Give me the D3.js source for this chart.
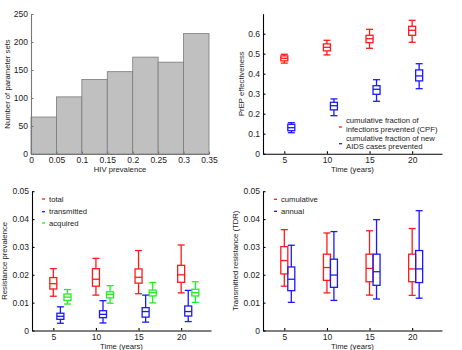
<!DOCTYPE html>
<html>
<head>
<meta charset="utf-8">
<script src="https://cdn.jsdelivr.net/npm/d3@7"></script>
<style type="text/css">
  body{
    margin: 0px;
    background: white;
  }
  svg text{
    font-family: 'Liberation Sans', Arial, sans-serif;
    fill: #222;
  }
  .axis text{
    font-size: 8.5px;
  }
  .label, .legend{
    font-size: 7.7px;
  }
</style>
</head>
<body>
<svg id="chart" width="462" height="350"></svg>
<script>

// histogram of HIV prevalence
var histEdges = [0, 0.05, 0.1, 0.15, 0.2, 0.25, 0.3, 0.35];
var histCounts = [66, 102, 133, 147, 173, 164, 215];

var years = [5, 10, 15, 20];

// boxes are [low whisker, q1, median, q3, high whisker]
var cpfBoxes = [
  [0.453, 0.464, 0.477, 0.489, 0.497],
  [0.494, 0.514, 0.532, 0.549, 0.567],
  [0.527, 0.555, 0.575, 0.592, 0.622],
  [0.557, 0.592, 0.617, 0.637, 0.667]
];
var aidsBoxes = [
  [0.105, 0.115, 0.130, 0.147, 0.155],
  [0.190, 0.219, 0.240, 0.257, 0.274],
  [0.262, 0.297, 0.322, 0.340, 0.370],
  [0.325, 0.364, 0.389, 0.419, 0.450]
];

var totalBoxes = [
  [0.0123, 0.0149, 0.0168, 0.0190, 0.0222],
  [0.0127, 0.0159, 0.0184, 0.0222, 0.0259],
  [0.0132, 0.0170, 0.0191, 0.0221, 0.0287],
  [0.0135, 0.0173, 0.0200, 0.0234, 0.0307]
];
var transmittedBoxes = [
  [0.0026, 0.0040, 0.0051, 0.0062, 0.0085],
  [0.0027, 0.0046, 0.0058, 0.0071, 0.0107],
  [0.0030, 0.0048, 0.0068, 0.0082, 0.0127],
  [0.0032, 0.0052, 0.0068, 0.0088, 0.0144]
];
var acquiredBoxes = [
  [0.0095, 0.0108, 0.0120, 0.0131, 0.0147],
  [0.0098, 0.0117, 0.0130, 0.0139, 0.0161],
  [0.0099, 0.0124, 0.0136, 0.0145, 0.0172],
  [0.0101, 0.0124, 0.0136, 0.0148, 0.0175]
];

var tdrCumBoxes = [
  [0.0159, 0.0203, 0.0251, 0.0301, 0.0362],
  [0.0135, 0.0180, 0.0226, 0.0274, 0.0350],
  [0.0127, 0.0175, 0.0223, 0.0274, 0.0358],
  [0.0126, 0.0175, 0.0221, 0.0274, 0.0366]
];
var tdrAnnBoxes = [
  [0.0101, 0.0143, 0.0184, 0.0228, 0.0306],
  [0.0108, 0.0155, 0.0199, 0.0256, 0.0355],
  [0.0113, 0.0162, 0.0211, 0.0274, 0.0398],
  [0.0116, 0.0172, 0.0221, 0.0287, 0.0430]
];

var histXTicks = [0, 0.05, 0.1, 0.15, 0.2, 0.25, 0.3, 0.35];
var histYTicks = [0, 50, 100, 150, 200, 250];
var prepYTicks = [0, 0.1, 0.2, 0.3, 0.4, 0.5, 0.6];
var resYTicks = [0, 0.01, 0.02, 0.03, 0.04, 0.05];

var red = '#ff1a1a', blue = '#1a1aff', green = '#22ee22';

var svg = d3.select('#chart');

function drawAxes(g, x, y, xTicks, yTicks, xFmt, yFmt, color) {
  var ax = g.append('g')
    .attr('class', 'axis')
    .attr('transform', 'translate(0,' + y.range()[0] + ')')
    .call(d3.axisBottom(x).tickValues(xTicks).tickFormat(xFmt)
      .tickSizeInner(-2.5).tickSizeOuter(0).tickPadding(3));
  var ay = g.append('g')
    .attr('class', 'axis')
    .attr('transform', 'translate(' + x.range()[0] + ',0)')
    .call(d3.axisLeft(y).tickValues(yTicks).tickFormat(yFmt)
      .tickSizeInner(-2.5).tickSizeOuter(0).tickPadding(3));
  [ax, ay].forEach(function(a) {
    a.selectAll('path, line').attr('stroke', color).attr('stroke-width', 1.1);
    a.selectAll('text').attr('fill', '#222');
  });
}

function labels(g, x, y, xText, yText, yLabelX) {
  var xr = x.range(), yr = y.range();
  g.append('text')
    .attr('class', 'label')
    .attr('x', (xr[0] + xr[1]) / 2)
    .attr('y', yr[0] + 18)
    .attr('text-anchor', 'middle')
    .text(xText);
  g.append('text')
    .attr('class', 'label')
    .attr('transform', 'translate(' + yLabelX + ',' + (yr[0] + yr[1]) / 2 + ') rotate(-90)')
    .attr('text-anchor', 'middle')
    .text(yText);
}

function drawBoxes(g, x, y, boxes, offset, color) {
  var hw = 3.5;
  var b = g.append('g')
    .attr('stroke', color)
    .attr('stroke-width', 1.3)
    .attr('fill', 'none');
  boxes.forEach(function(d, i) {
    var cx = x(years[i] + offset);
    // whiskers
    b.append('line').attr('x1', cx).attr('x2', cx).attr('y1', y(d[0])).attr('y2', y(d[1]));
    b.append('line').attr('x1', cx).attr('x2', cx).attr('y1', y(d[3])).attr('y2', y(d[4]));
    // caps
    b.append('line').attr('x1', cx - hw).attr('x2', cx + hw).attr('y1', y(d[0])).attr('y2', y(d[0]));
    b.append('line').attr('x1', cx - hw).attr('x2', cx + hw).attr('y1', y(d[4])).attr('y2', y(d[4]));
    // box and median
    b.append('rect')
      .attr('x', cx - hw).attr('width', 2 * hw)
      .attr('y', y(d[3])).attr('height', y(d[1]) - y(d[3]));
    b.append('line').attr('x1', cx - hw).attr('x2', cx + hw).attr('y1', y(d[2])).attr('y2', y(d[2]));
  });
}

function legend(g, items, x0, color) {
  items.forEach(function(it) {
    g.append('line')
      .attr('x1', x0).attr('x2', x0 + 3)
      .attr('y1', it.y).attr('y2', it.y)
      .attr('stroke', it.color).attr('stroke-width', 1.3);
    it.lines.forEach(function(t, j) {
      g.append('text')
        .attr('class', 'legend')
        .attr('x', x0 + 7)
        .attr('y', it.textY + j * 8.4)
        .attr('dy', '0.35em')
        .text(t);
    });
  });
}

var noFmt = function(d) { return d; };

// ---- panel 1: histogram
var g1 = svg.append('g');
var x1 = d3.scaleLinear().domain([0, 0.35]).range([31, 209]);
var y1 = d3.scaleLinear().domain([0, 250]).range([154, 14]);

g1.selectAll('.bar')
  .data(histCounts)
  .enter()
  .append('rect')
  .attr('class', 'bar')
  .attr('x', function(d, i) { return x1(histEdges[i]); })
  .attr('width', function(d, i) { return x1(histEdges[i + 1]) - x1(histEdges[i]); })
  .attr('y', function(d) { return y1(d); })
  .attr('height', function(d) { return y1(0) - y1(d); })
  .attr('fill', '#c0c0c0')
  .attr('stroke', '#7a7a7a')
  .attr('stroke-width', 0.8);

drawAxes(g1, x1, y1, histXTicks, histYTicks, noFmt, noFmt, '#777');
labels(g1, x1, y1, 'HIV prevalence', 'Number of parameter sets', 10);

// ---- panel 2: PrEP effectiveness
var g2 = svg.append('g');
var x2 = d3.scaleLinear().domain([2.5, 23.5]).range([263, 442]);
var y2 = d3.scaleLinear().domain([0, 0.7]).range([153.7, 13.7]);

drawAxes(g2, x2, y2, years, prepYTicks, noFmt, noFmt, '#000');
drawBoxes(g2, x2, y2, cpfBoxes, 0, red);
drawBoxes(g2, x2, y2, aidsBoxes, 0.82, blue);
labels(g2, x2, y2, 'Time (years)', 'PrEP effectiveness', 244);
legend(g2, [
  {color: red, y: 127, textY: 120.7, lines: ['cumulative fraction of', 'infections prevented (CPF)']},
  {color: blue, y: 143.7, textY: 138.2, lines: ['cumulative fraction of new', 'AIDS cases prevented']}
], 339);

// ---- panel 3: resistance prevalence
var g3 = svg.append('g');
var x3 = d3.scaleLinear().domain([2.5, 23.5]).range([32, 211]);
var y3 = d3.scaleLinear().domain([0, 0.05]).range([330.5, 191.2]);

drawAxes(g3, x3, y3, years, resYTicks, noFmt, noFmt, '#000');
drawBoxes(g3, x3, y3, totalBoxes, 0, red);
drawBoxes(g3, x3, y3, transmittedBoxes, 0.83, blue);
drawBoxes(g3, x3, y3, acquiredBoxes, 1.66, green);
labels(g3, x3, y3, 'Time (years)', 'Resistance prevalence', 7);
legend(g3, [
  {color: red, y: 199, textY: 199, lines: ['total']},
  {color: blue, y: 211.7, textY: 211.7, lines: ['transmitted']},
  {color: green, y: 223, textY: 223, lines: ['acquired']}
], 42);

// ---- panel 4: transmitted resistance
var g4 = svg.append('g');
var x4 = d3.scaleLinear().domain([2.5, 23.5]).range([263, 442]);
var y4 = d3.scaleLinear().domain([0, 0.05]).range([330.5, 191.2]);

drawAxes(g4, x4, y4, years, resYTicks, noFmt, noFmt, '#000');
drawBoxes(g4, x4, y4, tdrCumBoxes, 0, red);
drawBoxes(g4, x4, y4, tdrAnnBoxes, 0.82, blue);
labels(g4, x4, y4, 'Time (years)', 'Transmitted resistance (TDR)', 238);
legend(g4, [
  {color: red, y: 199.3, textY: 199.3, lines: ['cumulative']},
  {color: blue, y: 211.3, textY: 211.3, lines: ['annual']}
], 274);

</script>
</body>
</html>
